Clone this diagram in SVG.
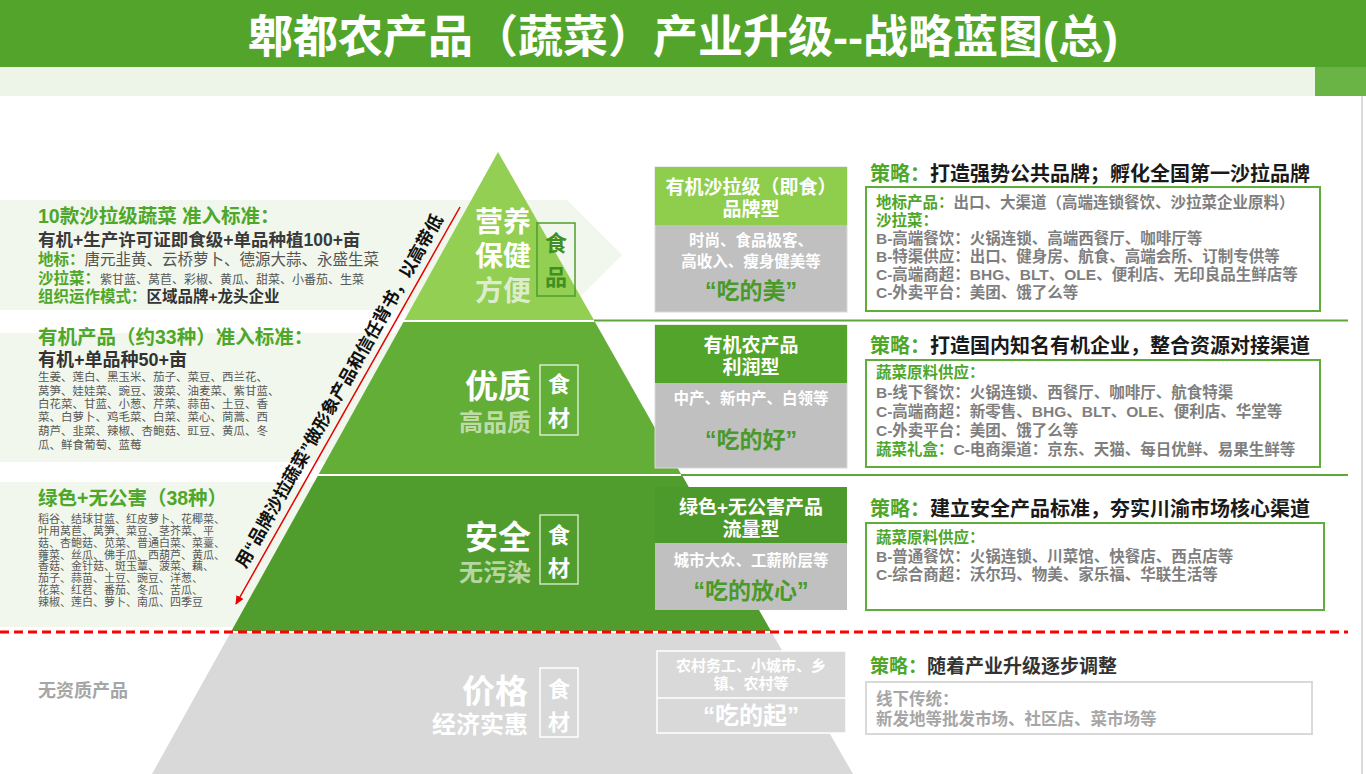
<svg xmlns="http://www.w3.org/2000/svg" width="1366" height="774" viewBox="0 0 1366 774">
<defs>
<style>
text{font-family:"Liberation Sans","Noto Sans CJK SC",sans-serif}
.b{font-weight:bold}
.g{fill:#4ea72a}
.dk{fill:#333}
.gy{fill:#7f7f7f}
.lg{fill:#595959}
.w{fill:#fff}
.qg{fill:#4a9a2a}
.c{text-anchor:middle}
.e{text-anchor:end}
.sbox{fill:#fff;stroke:#5fae3a;stroke-width:2}
.pale{fill:#f1f7ec}
</style>
<marker id="ah" markerWidth="10" markerHeight="10" refX="8" refY="5" orient="auto" markerUnits="userSpaceOnUse">
<path d="M0,1 L9,5 L0,9 Z" fill="#e60000"/>
</marker>
</defs>

<rect width="1366" height="774" fill="#fff"/>

<g id="title">
<rect x="0" y="0" width="1366" height="67" fill="#52a52a"/>
<rect x="0" y="67" width="1366" height="29" fill="#edf5e8"/>
<rect x="1315" y="67" width="51" height="29" fill="#6ab446"/>
<text x="683" y="53" class="b w c" font-size="45">郫都农产品（蔬菜）产业升级--战略蓝图(总)</text>
</g>
<line x1="1362" y1="96" x2="1362" y2="774" stroke="#cfcfcf" stroke-width="1.5"/>

<g id="backgrounds">
<polygon class="pale" points="0,200 567,200 622,255 567,310 0,310"/>
<rect class="pale" x="0" y="333" width="520" height="129"/>
<rect class="pale" x="0" y="482" width="420" height="145"/>
</g>

<g id="pyramid">
<polygon points="498,152 594,320 404.5,320" fill="#92cf52"/>
<polygon points="403.4,322 595,322 681,474 318.8,474" fill="#62ae37"/>
<polygon points="317.7,476 682.5,476 771,631 231.4,631" fill="#509d2d"/>
<polygon points="230.3,633 772,633 853,774 152,774" fill="#d9d9d9"/>
</g>

<g id="separators">
<line x1="594" y1="320.5" x2="1348" y2="320.5" stroke="#5ea63a" stroke-width="2"/>
<line x1="681" y1="475" x2="1348" y2="475" stroke="#5ea63a" stroke-width="2"/>
<line x1="0" y1="632" x2="1348" y2="632" stroke="#ff0000" stroke-width="3" stroke-dasharray="9,5"/>
</g>

<g id="layer1">
<text x="531" y="232" class="b w e" font-size="28">营养</text>
<text x="531" y="266" class="b w e" font-size="28">保健</text>
<text x="531" y="301" class="b e" font-size="28" fill="#dcedcc">方便</text>
<rect x="537" y="223" width="38" height="73" fill="none" stroke="#4f9f2d" stroke-width="1.5"/>
<text x="556" y="251" class="b c" font-size="22" fill="#3f8f22">食</text>
<text x="556" y="285" class="b c" font-size="22" fill="#3f8f22">品</text>
</g>

<g id="layer2">
<text x="531" y="398" class="b w e" font-size="33">优质</text>
<text x="531" y="431" class="b e" font-size="24" fill="#bfdca8">高品质</text>
<rect x="540" y="365" width="38" height="70" fill="none" stroke="#d6ebc6" stroke-width="1.5"/>
<text x="559" y="392" class="b w c" font-size="22">食</text>
<text x="559" y="426" class="b w c" font-size="22">材</text>
</g>

<g id="layer3">
<text x="531" y="549" class="b w e" font-size="33">安全</text>
<text x="531" y="581" class="b e" font-size="24" fill="#b8d6a5">无污染</text>
<rect x="540" y="515" width="38" height="69" fill="none" stroke="#cfe5bf" stroke-width="1.5"/>
<text x="559" y="543" class="b w c" font-size="22">食</text>
<text x="559" y="576" class="b w c" font-size="22">材</text>
</g>

<g id="layer4">
<text x="528" y="703" class="b w e" font-size="33">价格</text>
<text x="528" y="733" class="b w e" font-size="24">经济实惠</text>
<rect x="540" y="668" width="38" height="69" fill="none" stroke="#fff" stroke-width="1.5"/>
<text x="559" y="697" class="b w c" font-size="22">食</text>
<text x="559" y="730" class="b w c" font-size="22">材</text>
</g>

<g id="left1">
<text x="38" y="223" class="b g" font-size="19.5">10款沙拉级蔬菜 准入标准：</text>
<text x="38" y="246" class="b" font-size="17.5" fill="#3a3a3a">有机+生产许可证即食级+单品种植100+亩</text>
<text x="38" y="265" font-size="15.5"><tspan class="b g">地标：</tspan><tspan fill="#555">唐元韭黄、云桥萝卜、德源大蒜、永盛生菜</tspan></text>
<text x="38" y="284" font-size="15.5"><tspan class="b g">沙拉菜：</tspan><tspan fill="#555" font-size="12">紫甘蓝、莴苣、彩椒、黄瓜、甜菜、小番茄、生菜</tspan></text>
<text x="38" y="302" font-size="15.5"><tspan class="b g">组织运作模式：</tspan><tspan class="b dk">区域品牌+龙头企业</tspan></text>
</g>

<g id="left2">
<text x="38" y="344" class="b g" font-size="19.5">有机产品（约33种）准入标准：</text>
<text x="38" y="366" class="b dk" font-size="18">有机+单品种50+亩</text>
<g class="lg" font-size="11.5">
<text x="38" y="381">生姜、莲白、黑玉米、茄子、菜豆、西兰花、</text>
<text x="38" y="395">莴笋、娃娃菜、豌豆、菠菜、油麦菜、紫甘蓝、</text>
<text x="38" y="408">白花菜、甘蓝、小葱、芹菜、蒜苗、土豆、香</text>
<text x="38" y="421">菜、白萝卜、鸡毛菜、白菜、菜心、茼蒿、西</text>
<text x="38" y="435">葫芦、韭菜、辣椒、杏鲍菇、豇豆、黄瓜、冬</text>
<text x="38" y="449">瓜、鲜食葡萄、蓝莓</text>
</g>
</g>

<g id="left3">
<text x="38" y="505" class="b g" font-size="19.5">绿色+无公害（38种）</text>
<g class="lg" font-size="11">
<text x="38" y="523">稻谷、结球甘蓝、红皮萝卜、花椰菜、</text>
<text x="38" y="535">叶用莴苣、莴笋、菜豆、茎芥菜、平</text>
<text x="38" y="547">菇、杏鲍菇、苋菜、普通白菜、菜薹、</text>
<text x="38" y="559">蕹菜、丝瓜、佛手瓜、西葫芦、黄瓜、</text>
<text x="38" y="570">香菇、金针菇、斑玉蕈、菠菜、藕、</text>
<text x="38" y="582">茄子、蒜苗、土豆、豌豆、洋葱、</text>
<text x="38" y="594">花菜、红苕、番茄、冬瓜、苦瓜、</text>
<text x="38" y="606">辣椒、莲白、萝卜、南瓜、四季豆</text>
</g>
</g>

<g id="left4">
<text x="38" y="697" class="b" font-size="18" fill="#a6a6a6">无资质产品</text>
</g>

<g id="connectors">
<line x1="460" y1="207" x2="236" y2="604" stroke="#e60000" stroke-width="1.5" marker-end="url(#ah)"/>
<text x="344.5" y="394" class="b c" font-size="17.5" fill="#111" transform="rotate(-60.5 344.5 394)">用“品牌沙拉蔬菜”做形象产品和信任背书，以高带低</text>
</g>

<g id="box1">
<rect x="655" y="167" width="192" height="145" fill="#c0c0c0" stroke="#d9d9d9" stroke-width="1"/>
<rect x="655" y="167" width="192" height="58" fill="#8fce4d"/>
<text x="751" y="194" class="b w c" font-size="19">有机沙拉级（即食）</text>
<text x="751" y="216" class="b w c" font-size="19">品牌型</text>
<text x="751" y="246" class="b w c" font-size="15.5">时尚、食品极客、</text>
<text x="751" y="267" class="b w c" font-size="15.5">高收入、瘦身健美等</text>
<text x="751" y="299" class="b qg c" font-size="23">“吃的美”</text>
</g>

<g id="box2">
<rect x="655" y="325" width="192" height="143" fill="#c0c0c0" stroke="#d9d9d9" stroke-width="1"/>
<rect x="655" y="325" width="192" height="58" fill="#52a52a"/>
<text x="751" y="352" class="b w c" font-size="19">有机农产品</text>
<text x="751" y="374" class="b w c" font-size="19">利润型</text>
<text x="751" y="404" class="b w c" font-size="15.5">中产、新中产、白领等</text>
<text x="751" y="448" class="b qg c" font-size="23">“吃的好”</text>
</g>

<g id="box3">
<rect x="655" y="487" width="192" height="123" fill="#c0c0c0"/>
<rect x="655" y="487" width="192" height="56" fill="#4b9a2b"/>
<text x="751" y="514" class="b w c" font-size="19">绿色+无公害产品</text>
<text x="751" y="536" class="b w c" font-size="19">流量型</text>
<text x="751" y="566" class="b w c" font-size="15.5">城市大众、工薪阶层等</text>
<text x="751" y="599" class="b qg c" font-size="23">“吃的放心”</text>
</g>

<g id="box4">
<rect x="657" y="651" width="189" height="82" fill="#d9d9d9" stroke="#fff" stroke-width="1.5"/>
<line x1="657" y1="698" x2="846" y2="698" stroke="#fff" stroke-width="1.5"/>
<text x="751" y="671" class="b w c" font-size="15">农村务工、小城市、乡</text>
<text x="751" y="689" class="b w c" font-size="15">镇、农村等</text>
<text x="751" y="724" class="b w c" font-size="24">“吃的起”</text>
</g>

<g id="strategy1">
<text x="870" y="181" class="b" font-size="20"><tspan class="g">策略：</tspan><tspan fill="#1a1a1a">打造强势公共品牌；孵化全国第一沙拉品牌</tspan></text>
<rect class="sbox" x="866" y="187" width="454" height="124"/>
<g font-size="15.5" class="b">
<text x="876" y="208"><tspan class="g">地标产品：</tspan><tspan class="gy">出口、大渠道（高端连锁餐饮、沙拉菜企业原料）</tspan></text>
<text x="876" y="226" class="g">沙拉菜：</text>
<text x="876" y="244" class="gy">B-高端餐饮：火锅连锁、高端西餐厅、咖啡厅等</text>
<text x="876" y="262" class="gy">B-特渠供应：出口、健身房、航食、高端会所、订制专供等</text>
<text x="876" y="280" class="gy">C-高端商超：BHG、BLT、OLE、便利店、无印良品生鲜店等</text>
<text x="876" y="298" class="gy">C-外卖平台：美团、饿了么等</text>
</g>
</g>

<g id="strategy2">
<text x="870" y="353" class="b" font-size="20"><tspan class="g">策略：</tspan><tspan fill="#1a1a1a">打造国内知名有机企业，整合资源对接渠道</tspan></text>
<rect class="sbox" x="866" y="360" width="454" height="107"/>
<g font-size="15.5" class="b">
<text x="876" y="378" class="g">蔬菜原料供应：</text>
<text x="876" y="398" class="gy">B-线下餐饮：火锅连锁、西餐厅、咖啡厅、航食特渠</text>
<text x="876" y="417" class="gy">C-高端商超：新零售、BHG、BLT、OLE、便利店、华堂等</text>
<text x="876" y="436" class="gy">C-外卖平台：美团、饿了么等</text>
<text x="876" y="455"><tspan class="g">蔬菜礼盒：</tspan><tspan class="gy">C-电商渠道：京东、天猫、每日优鲜、易果生鲜等</tspan></text>
</g>
</g>

<g id="strategy3">
<text x="870" y="516" class="b" font-size="20"><tspan class="g">策略：</tspan><tspan fill="#1a1a1a">建立安全产品标准，夯实川渝市场核心渠道</tspan></text>
<rect class="sbox" x="866" y="523" width="458" height="87"/>
<g font-size="15.5" class="b">
<text x="876" y="543" class="g">蔬菜原料供应：</text>
<text x="876" y="562" class="gy">B-普通餐饮：火锅连锁、川菜馆、快餐店、西点店等</text>
<text x="876" y="580" class="gy">C-综合商超：沃尔玛、物美、家乐福、华联生活等</text>
</g>
</g>

<g id="strategy4">
<text x="870" y="673" class="b" font-size="19"><tspan class="g">策略：</tspan><tspan class="dk">随着产业升级逐步调整</tspan></text>
<rect x="866" y="682" width="446" height="52" fill="#fff" stroke="#d9d9d9" stroke-width="2"/>
<text x="876" y="705" class="b" font-size="16.5" fill="#a6a6a6">线下传统：</text>
<text x="876" y="725" class="b" font-size="16.5" fill="#a6a6a6">新发地等批发市场、社区店、菜市场等</text>
</g>
</svg>
